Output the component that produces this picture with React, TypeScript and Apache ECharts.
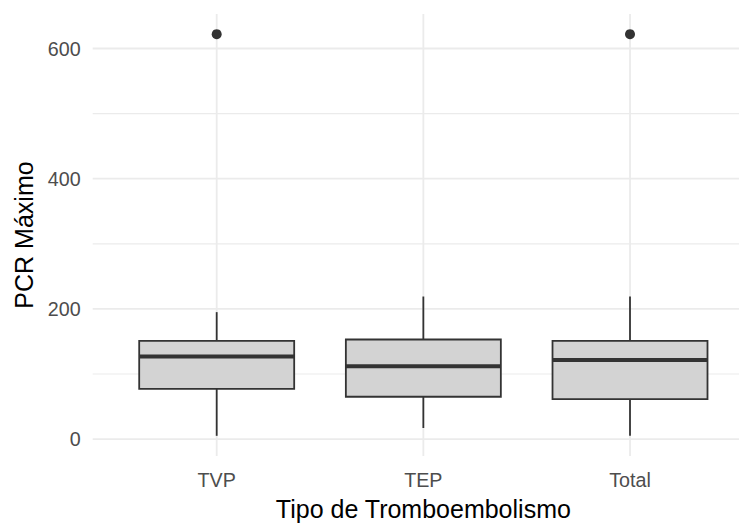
import React, { useEffect, useRef } from "react";
import * as echarts from "echarts";

const categories = ["TVP", "TEP", "Total"];
const lowerWhisker = [5, 17, 5];
const q1 = [77, 65, 61.5];
const median = [127, 112, 121.5];
const q3 = [151, 153, 151];
const upperWhisker = [195, 219, 219];
const outlierCategory = ["TVP", "Total"];
const outlierValue = [622, 622];
const yTicks = [0, 200, 400, 600];
const yMinorTicks = [100, 300, 500];

const FONT = 'Arial, "Liberation Sans", sans-serif';

export default function App() {
  const ref = useRef<HTMLDivElement>(null);
  useEffect(() => {
    if (!ref.current) return;
    const chart = echarts.init(ref.current, undefined, { renderer: "svg" });
    const boxData = categories.map((c, i) => [
      i + 1,
      lowerWhisker[i],
      q1[i],
      median[i],
      q3[i],
      upperWhisker[i],
    ]);
    const outlierData = outlierCategory.map((c, i) => [
      categories.indexOf(c) + 1,
      outlierValue[i],
    ]);
    // grid line items: [orientation (0 = horizontal, 1 = vertical), value, major(1)/minor(0)]
    const gridData = [
      ...yMinorTicks.map((v) => [0, v, 0]),
      ...yTicks.map((v) => [0, v, 1]),
      ...categories.map((c, i) => [1, i + 1, 1]),
    ];
    const half = 0.375;
    const stroke = "#333333";
    chart.setOption({
      animation: false,
      backgroundColor: "#ffffff",
      grid: {
        left: 92.7,
        top: 14,
        right: 46,
        bottom: 67,
        containLabel: false,
        outerBoundsMode: "none",
      },
      xAxis: {
        type: "value",
        min: 0.4,
        max: 3.6,
        name: "Tipo de Tromboembolismo",
        nameLocation: "middle",
        nameGap: 40,
        nameTextStyle: { fontFamily: FONT, fontSize: 25, color: "#000000" },
        axisLine: { show: false },
        axisTick: { show: false },
        splitLine: { show: false },
        axisLabel: {
          customValues: [1, 2, 3],
          formatter: (v: number) => categories[Math.round(v) - 1] ?? "",
          fontFamily: FONT,
          fontSize: 19.7,
          color: "#4D4D4D",
          margin: 14,
        },
      },
      yAxis: {
        type: "value",
        min: -26,
        max: 653,
        name: "PCR Máximo",
        nameLocation: "middle",
        nameGap: 54,
        nameTextStyle: { fontFamily: FONT, fontSize: 25, color: "#000000" },
        axisLine: { show: false },
        axisTick: { show: false },
        splitLine: { show: false },
        axisLabel: {
          customValues: yTicks,
          fontFamily: FONT,
          fontSize: 19.7,
          color: "#4D4D4D",
          margin: 12,
        },
      },
      series: [
        {
          type: "custom",
          z: 1,
          silent: true,
          data: gridData,
          encode: { x: -1, y: -1 },
          renderItem: (params: any, api: any) => {
            const cs = params.coordSys;
            const orient = api.value(0);
            const v = api.value(1);
            const major = api.value(2) === 1;
            const lw = major ? 1.8 : 1.2;
            if (orient === 0) {
              const y = api.coord([1, v])[1];
              return {
                type: "line",
                shape: { x1: cs.x, y1: y, x2: cs.x + cs.width, y2: y },
                style: { stroke: "#EBEBEB", lineWidth: lw },
              };
            }
            const x = api.coord([v, 0])[0];
            return {
              type: "line",
              shape: { x1: x, y1: cs.y, x2: x, y2: cs.y + cs.height },
              style: { stroke: "#EBEBEB", lineWidth: lw },
            };
          },
        },
        {
          type: "custom",
          z: 3,
          data: boxData,
          encode: { x: 0, y: [1, 2, 3, 4, 5] },
          renderItem: (params: any, api: any) => {
            const x = api.value(0);
            const lo = api.coord([x, api.value(1)]);
            const b1 = api.coord([x, api.value(2)]);
            const md = api.coord([x, api.value(3)]);
            const b3 = api.coord([x, api.value(4)]);
            const hi = api.coord([x, api.value(5)]);
            const left = api.coord([x - half, api.value(2)])[0];
            const right = api.coord([x + half, api.value(2)])[0];
            return {
              type: "group",
              children: [
                {
                  type: "line",
                  shape: { x1: hi[0], y1: hi[1], x2: b3[0], y2: b3[1] },
                  style: { stroke, lineWidth: 1.8 },
                },
                {
                  type: "line",
                  shape: { x1: lo[0], y1: lo[1], x2: b1[0], y2: b1[1] },
                  style: { stroke, lineWidth: 1.8 },
                },
                {
                  type: "rect",
                  shape: { x: left, y: b3[1], width: right - left, height: b1[1] - b3[1] },
                  style: { fill: "#D3D3D3", stroke, lineWidth: 1.8 },
                },
                {
                  type: "line",
                  shape: { x1: left, y1: md[1], x2: right, y2: md[1] },
                  style: { stroke, lineWidth: 4 },
                },
              ],
            };
          },
        },
        {
          type: "scatter",
          z: 4,
          data: outlierData,
          symbol: "circle",
          symbolSize: 10,
          itemStyle: { color: stroke, opacity: 1 },
        },
      ],
    });
    return () => chart.dispose();
  }, []);
  return (
    <div
      style={{
        position: "absolute",
        left: 0,
        top: 0,
        width: 739,
        height: 523,
        overflow: "hidden",
        background: "#ffffff",
      }}
    >
      <div ref={ref} style={{ width: 800, height: 523 }} />
    </div>
  );
}
